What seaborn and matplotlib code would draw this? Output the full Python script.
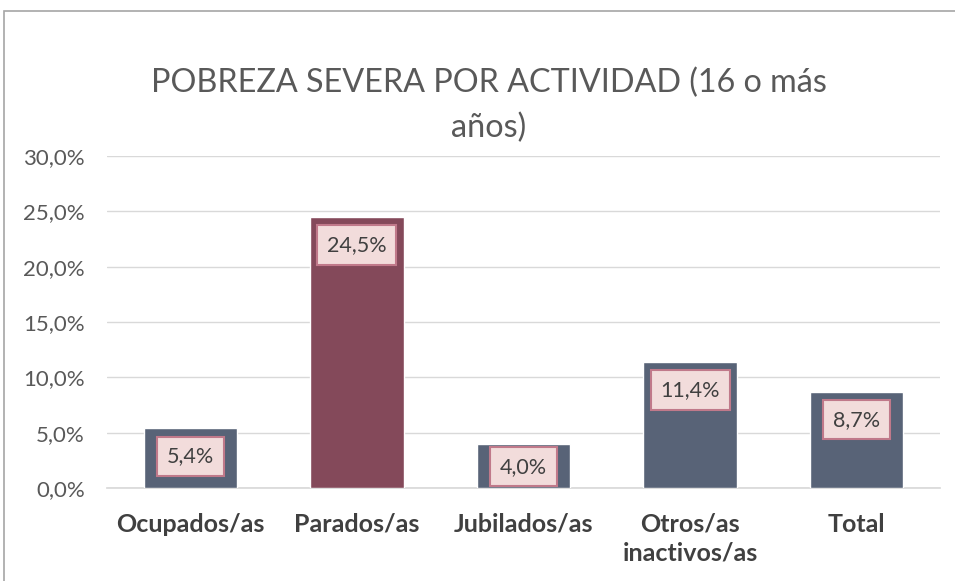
import matplotlib
matplotlib.use("Agg")
import matplotlib.pyplot as plt
import seaborn as sns
import pandas as pd
from matplotlib.ticker import FuncFormatter
from matplotlib.patches import Rectangle

categories = ["Ocupados/as", "Parados/as", "Jubilados/as", "Otros/as\ninactivos/as", "Total"]
values = [5.4, 24.5, 4.0, 11.4, 8.7]
labels = ["5,4%", "24,5%", "4,0%", "11,4%", "8,7%"]

sns.set_theme(style="white")
plt.rcParams['font.family'] = ['Lato', 'DejaVu Sans']

base = "#586377"
hi = "#84495A"
palette = [base, hi, base, base, base]

df = pd.DataFrame({"cat": categories, "val": values})

fig = plt.figure(figsize=(9.55, 5.81), dpi=100)
ax = fig.add_axes([107/955, 1-488/581, 833/955, (488-156)/581])

sns.barplot(data=df, x="cat", y="val", hue="cat", palette=palette, legend=False,
            width=0.56, ax=ax, saturation=1, zorder=3)

ax.set_ylim(0, 30)
ax.set_yticks([0, 5, 10, 15, 20, 25, 30])
ax.yaxis.set_major_formatter(FuncFormatter(lambda v, p: f"{v:.1f}%".replace(".", ",")))
ax.grid(axis="y", color="#D9D9D9", linewidth=1, zorder=0)
for s in ["top", "right", "left"]:
    ax.spines[s].set_visible(False)
ax.spines["bottom"].set_color("#D9D9D9")
ax.tick_params(axis="y", length=0, labelsize=16, labelcolor="#595959", pad=16)
ax.tick_params(axis="x", length=0, labelsize=18, labelcolor="#404040", pad=18)
for t in ax.get_xticklabels():
    t.set_fontweight("bold")
    t.set_linespacing(1.3)
ax.set_xlabel("")
ax.set_ylabel("")

for i, (v, lab) in enumerate(zip(values, labels)):
    off = -28 if v > 5 else -23
    ax.annotate(lab, (i, v), xytext=(0, off * 0.72), textcoords="offset points",
                ha="center", va="center", fontsize=15.5, color="#404040", zorder=5,
                bbox=dict(boxstyle="square,pad=0.45", fc="#F2DCDB", ec="#C0798A", lw=1.5))

fig.text(489/955, 1-83/581, "POBREZA SEVERA POR ACTIVIDAD (16 o más", ha="center", va="center",
         fontsize=23.3, color="#595959")
fig.text(489/955, 1-128/581, "años)", ha="center", va="center", fontsize=23.3, color="#595959")

fig.patches.append(Rectangle((4/955, -0.1), 1.2, 1 - 11/581 + 0.1, transform=fig.transFigure,
                             fill=False, ec="#A6A6A6", lw=1.2))

fig.savefig("out.png", dpi=100)
